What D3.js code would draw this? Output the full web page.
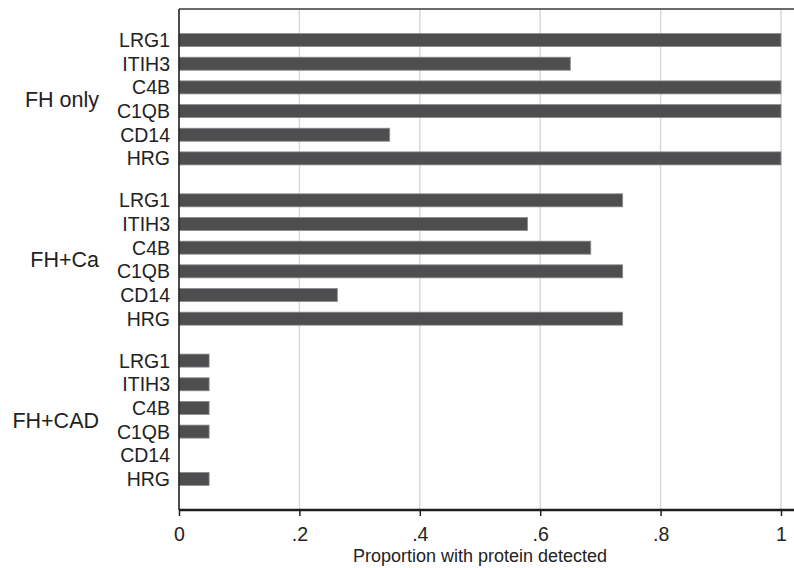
<!DOCTYPE html>
<html>
<head>
<meta charset="utf-8">
<script src="https://cdn.jsdelivr.net/npm/d3@7"></script>
<style>
    body { margin: 0; background: #fff; }
    svg { display: block; font-family: "Liberation Sans", Arial, sans-serif; }
</style>
</head>
<body>
<div id="chart"></div>
<script>
// chart data
const groups = ["FH only", "FH+Ca", "FH+CAD"];
const proteins = ["LRG1", "ITIH3", "C4B", "C1QB", "CD14", "HRG"];
const fhOnly = [1, 0.65, 1, 1, 0.35, 1];
const fhCa = [0.737, 0.579, 0.684, 0.737, 0.263, 0.737];
const fhCad = [0.05, 0.05, 0.05, 0.05, 0, 0.05];
const xTickValues = [0, 0.2, 0.4, 0.6, 0.8, 1];
const xTickLabels = ["0", ".2", ".4", ".6", ".8", "1"];
const xLabel = "Proportion with protein detected";

const groupValues = [fhOnly, fhCa, fhCad];
const data = groups.flatMap((g, i) =>
    proteins.map((p, j) => ({group: g, protein: p, value: groupValues[i][j]})));

const width = 794;
const height = 568;
const margin = {top: 9, right: 13, bottom: 58, left: 179};

const svg = d3.select("#chart")
    .append("svg")
    .attr("width", width)
    .attr("height", height);

const x = d3.scaleLinear()
    .domain([0, 1])
    .range([margin.left, width - margin.right]);

const yGroup = d3.scaleBand()
    .domain(groups)
    .range([margin.top, height - margin.bottom])
    .paddingInner(0.114)
    .paddingOuter(0.12);

const yProt = d3.scaleBand()
    .domain(proteins)
    .range([0, yGroup.bandwidth()])
    .paddingInner(0.45)
    .paddingOuter(0.225);

// gridlines
svg.append("g")
    .selectAll("line")
    .data(xTickValues.filter(d => d > 0))
    .join("line")
    .attr("x1", d => x(d))
    .attr("x2", d => x(d))
    .attr("y1", margin.top)
    .attr("y2", height - margin.bottom)
    .attr("stroke", "#d9d9d9")
    .attr("stroke-width", 1.5);

// bars
svg.append("g")
    .selectAll("rect")
    .data(data.filter(d => d.value > 0))
    .join("rect")
    .attr("x", x(0))
    .attr("y", d => yGroup(d.group) + yProt(d.protein))
    .attr("width", d => x(d.value) - x(0))
    .attr("height", yProt.bandwidth())
    .attr("fill", "#4e4e50")
    .attr("stroke", "#8c8c8c")
    .attr("stroke-width", 0.8);

// frame: top and left
svg.append("line")
    .attr("x1", margin.left).attr("x2", width)
    .attr("y1", margin.top).attr("y2", margin.top)
    .attr("stroke", "#3a3a3a").attr("stroke-width", 1.6);

svg.append("line")
    .attr("x1", margin.left).attr("x2", margin.left)
    .attr("y1", margin.top).attr("y2", height - margin.bottom)
    .attr("stroke", "#222").attr("stroke-width", 1.6);

// x axis
const xAxis = svg.append("g")
    .attr("transform", `translate(0,${height - margin.bottom})`)
    .call(d3.axisBottom(x)
        .tickValues(xTickValues)
        .tickFormat((d, i) => xTickLabels[i])
        .tickSize(6)
        .tickPadding(11)
        .tickSizeOuter(0));

xAxis.select(".domain").remove();
xAxis.append("line")
    .attr("x1", margin.left).attr("x2", width)
    .attr("stroke", "#1e1e1e").attr("stroke-width", 2.4);
xAxis.selectAll(".tick line").attr("stroke", "#222").attr("stroke-width", 1.5);
xAxis.selectAll(".tick text")
    .attr("font-size", "19.5px")
    .attr("fill", "#222")
    .attr("font-family", "'Liberation Sans', Arial, sans-serif");

svg.append("text")
    .attr("x", (x(0) + x(1)) / 2)
    .attr("y", height - 6)
    .attr("text-anchor", "middle")
    .attr("font-size", "18px")
    .attr("fill", "#222")
    .text(xLabel);

// protein labels
svg.append("g")
    .selectAll("text")
    .data(data)
    .join("text")
    .attr("x", margin.left - 9)
    .attr("y", d => yGroup(d.group) + yProt(d.protein) + yProt.bandwidth() / 2)
    .attr("dy", "0.36em")
    .attr("text-anchor", "end")
    .attr("font-size", "19.5px")
    .attr("fill", "#222")
    .text(d => d.protein);

// group labels
svg.append("g")
    .selectAll("text")
    .data(groups)
    .join("text")
    .attr("x", 99)
    .attr("y", d => yGroup(d) + yGroup.bandwidth() / 2)
    .attr("dy", "0.36em")
    .attr("text-anchor", "end")
    .attr("font-size", "21.5px")
    .attr("fill", "#222")
    .text(d => d);
</script>
</body>
</html>
